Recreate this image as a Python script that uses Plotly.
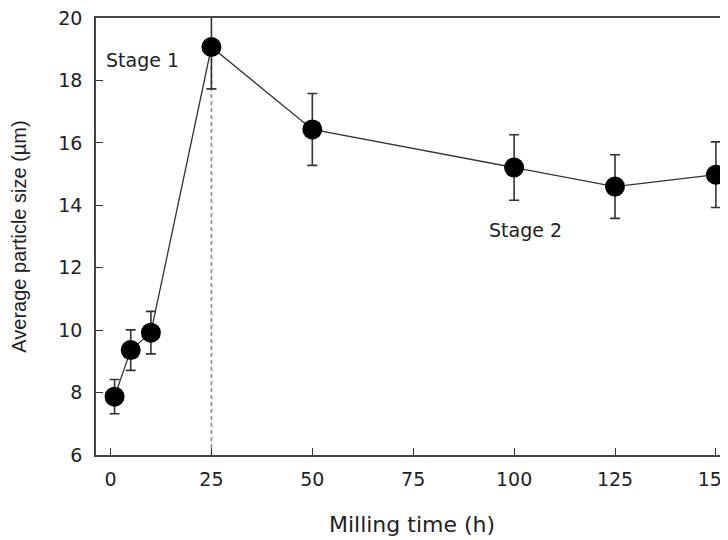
import plotly.graph_objects as go

milling_time = [1, 5, 10, 25, 50, 100, 125, 150]
particle_size = [7.87, 9.36, 9.92, 19.07, 16.43, 15.21, 14.60, 14.98]
size_error = [0.55, 0.65, 0.68, 1.34, 1.15, 1.05, 1.02, 1.05]

x_ticks = [0, 25, 50, 75, 100, 125, 150]
y_ticks = [6, 8, 10, 12, 14, 16, 18, 20]

stage_labels = ["Stage 1", "Stage 2"]
stage_x = [8.0, 102.7]
stage_y = [18.66, 13.21]

boundary_time = 25
y_min, y_max = 6, 20

FONT = "DejaVu Sans, Liberation Sans, Arial, sans-serif"
TFONT = "Liberation Sans, Arial, sans-serif"
INK = "#222222"

fig = go.Figure()

# dashed boundary line between stages
fig.add_trace(go.Scatter(
    x=[boundary_time, boundary_time],
    y=[y_min, particle_size[milling_time.index(boundary_time)]],
    mode="lines",
    line=dict(color="#8a8a8a", width=1.6, dash="4px,3px"),
    hoverinfo="skip",
    showlegend=False,
))

fig.add_trace(go.Scatter(
    x=milling_time,
    y=particle_size,
    mode="lines+markers",
    line=dict(color="#333333", width=1.3),
    marker=dict(color="black", size=20),
    error_y=dict(type="data", array=size_error, visible=True,
                 color="#333333", thickness=1.6, width=5),
    showlegend=False,
    cliponaxis=True,
))

for label, sx, sy in zip(stage_labels, stage_x, stage_y):
    fig.add_annotation(x=sx, y=sy, text=label, showarrow=False,
                       font=dict(family=FONT, size=19, color=INK),
                       xanchor="center", yanchor="middle")

fig.update_layout(
    width=728, height=540,
    margin=dict(l=88, r=8, t=10, b=93, autoexpand=False),
    paper_bgcolor="white", plot_bgcolor="white",
    font=dict(family=FONT, color=INK),
    xaxis=dict(
        range=[-3.6, 153.0],
        tickvals=x_ticks,
        ticks="inside", ticklen=7, tickwidth=1.3, tickcolor="#333333",
        showline=True, linecolor="#444444", linewidth=1.6, mirror=True,
        showgrid=False, zeroline=False,
        tickfont=dict(family=FONT, size=19, color=INK),
        ticklabelstandoff=6,
        ticklabeloverflow="allow",
        automargin=False,
        title=dict(text="Milling time (h)", font=dict(family=FONT, size=22, color=INK), standoff=28),
    ),
    yaxis=dict(
        range=[y_min, y_max],
        tickvals=y_ticks,
        ticks="inside", ticklen=7, tickwidth=1.3, tickcolor="#333333",
        showline=True, linecolor="#444444", linewidth=1.6, mirror=False,
        showgrid=False, zeroline=False,
        tickfont=dict(family=FONT, size=19, color=INK),
        ticklabelstandoff=8,
        ticklabeloverflow="allow",
        automargin=False,
        title=dict(text="Average particle size (µm)", font=dict(family=TFONT, size=20, color=INK), standoff=28),
    ),
)

fig.write_html("out.html")
